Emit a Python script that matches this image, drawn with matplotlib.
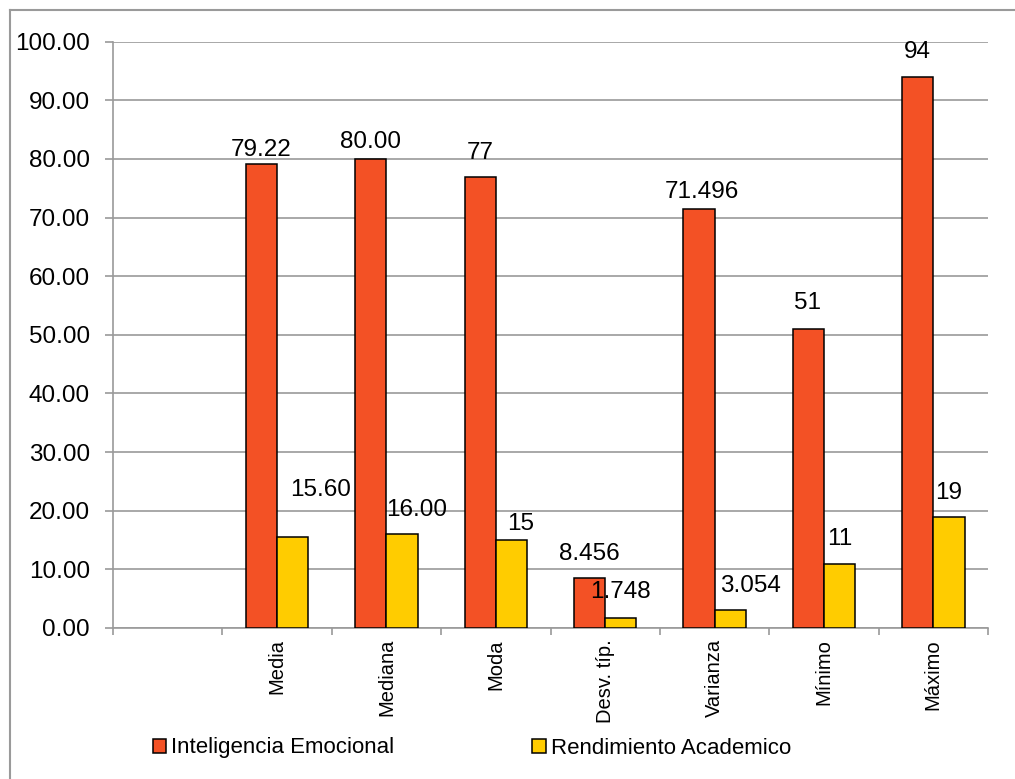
import matplotlib
matplotlib.use("Agg")
import matplotlib.pyplot as plt
from matplotlib.patches import Patch
from matplotlib.lines import Line2D
import numpy as np

plt.rcParams['font.family'] = ['Liberation Sans', 'DejaVu Sans']

categories = ["", "Media", "Mediana", "Moda", "Desv. típ.", "Varianza", "Mínimo", "Máximo"]
series_names = ["Inteligencia Emocional", "Rendimiento Academico"]
inteligencia = [79.22, 80.00, 77, 8.456, 71.496, 51, 94]
rendimiento = [15.60, 16.00, 15, 1.748, 3.054, 11, 19]
labels_ie = ["79.22", "80.00", "77", "8.456", "71.496", "51", "94"]
labels_ra = ["15.60", "16.00", "15", "1.748", "3.054", "11", "19"]
y_ticks = [0, 10, 20, 30, 40, 50, 60, 70, 80, 90, 100]

RED = "#F35125"
YELLOW = "#FFCC00"
GRID = "#9A9A9A"

# label nudges in pixels (dx, dy), as placed in the original
offs_ie = [(0, 14), (0, 17), (0, 24), (0, 24), (3, 17), (-1, 26), (0, 25)]
offs_ra = [(28, 47), (15, 24), (9, 16), (0, 26), (20, 24), (0, 25), (0, 24)]

fig = plt.figure(figsize=(10.15, 7.79), dpi=100)
ax = fig.add_axes([113 / 1015, 1 - 628 / 779, 875 / 1015, (628 - 41.7) / 779])

x = np.arange(1, len(categories))
w = 0.286
bars1 = ax.bar(x - w / 2, inteligencia, w, color=RED, edgecolor="black", linewidth=1.1, zorder=3)
bars2 = ax.bar(x + w / 2, rendimiento, w, color=YELLOW, edgecolor="black", linewidth=1.1, zorder=3)

for bars, labs, offs in [(bars1, labels_ie, offs_ie), (bars2, labels_ra, offs_ra)]:
    for b, lab, (dx, dy) in zip(bars, labs, offs):
        ax.annotate(lab, (b.get_x() + b.get_width() / 2, b.get_height()),
                    xytext=(dx, dy), textcoords="offset pixels",
                    ha="center", va="center", fontsize=17.5, zorder=4)

ax.set_xlim(-0.5, len(categories) - 0.5)
ax.set_ylim(0, 100)
ax.set_yticks(y_ticks)
ax.set_yticklabels([f"{v:.2f}" for v in y_ticks], fontsize=17.5)
ax.yaxis.grid(True, color=GRID, linewidth=1.2, zorder=0)

ax.set_xticks(np.arange(len(categories)))
ax.set_xticklabels(categories, rotation=90, fontsize=14.5, va="top")
ax.set_xticks(np.arange(len(categories) + 1) - 0.5, minor=True)
ax.tick_params(axis="x", which="major", length=0, pad=8)
ax.tick_params(axis="x", which="minor", length=5, width=1.2, color=GRID, direction="out")
ax.tick_params(axis="y", length=6, width=1.2, color=GRID, pad=10.5)

for s in ["top", "right"]:
    ax.spines[s].set_visible(False)
for s in ["left", "bottom"]:
    ax.spines[s].set_color(GRID)
    ax.spines[s].set_linewidth(1.2)

handles = [Patch(facecolor=RED, edgecolor="black", linewidth=1.1),
           Patch(facecolor=YELLOW, edgecolor="black", linewidth=1.1)]
fig.legend(handles, series_names, loc="center", bbox_to_anchor=(472 / 1015, 1 - 748 / 779),
           ncol=2, frameon=False, fontsize=16, handlelength=0.6, handleheight=0.6,
           handletextpad=0.25, columnspacing=6.2)

# outer chart frame (left and top edges visible)
fig.add_artist(Line2D([10 / 1015, 10 / 1015], [0, 1 - 9.5 / 779], color=GRID, linewidth=1.5))
fig.add_artist(Line2D([10 / 1015, 1], [1 - 9.5 / 779, 1 - 9.5 / 779], color=GRID, linewidth=1.5))

fig.savefig("out.png", dpi=100)
